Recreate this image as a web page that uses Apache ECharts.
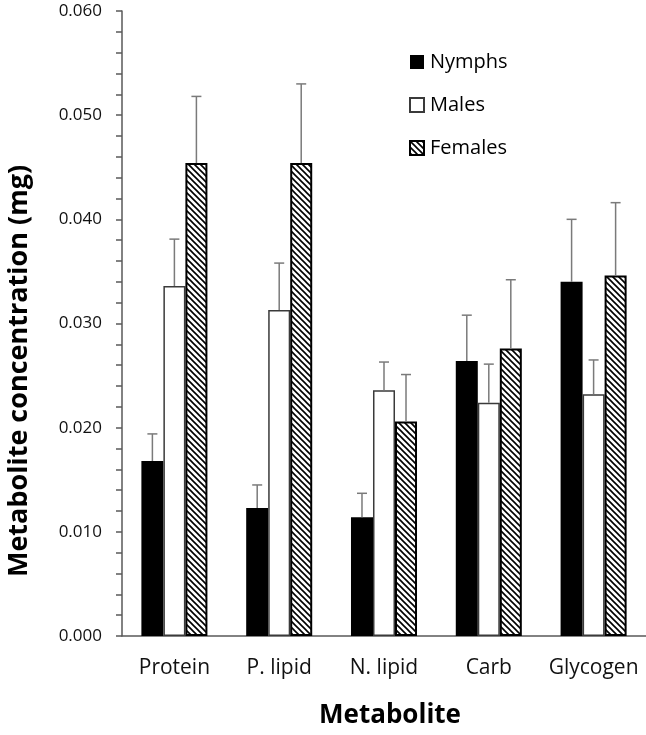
<!DOCTYPE html>
<html>
<head>
<meta charset="utf-8">
<script src="https://cdn.jsdelivr.net/npm/echarts@6/dist/echarts.min.js"></script>
<style>
html,body{margin:0;padding:0;background:#fff;}
#chart{width:646px;height:735px;}
</style>
</head>
<body>
<div id="chart"></div>
<script>
// ---- data ----
var categories = ['Protein', 'P. lipid', 'N. lipid', 'Carb', 'Glycogen'];
var seriesNames = ['Nymphs', 'Males', 'Females'];
var nymphs = [0.0168, 0.0123, 0.0114, 0.0264, 0.0340];
var nymphsErr = [0.0026, 0.0022, 0.0023, 0.0044, 0.0060];
var males = [0.0336, 0.0313, 0.0236, 0.0224, 0.0232];
var malesErr = [0.0045, 0.0045, 0.0027, 0.0037, 0.0033];
var females = [0.0454, 0.0454, 0.0206, 0.0276, 0.0346];
var femalesErr = [0.0064, 0.0076, 0.0045, 0.0066, 0.0070];
var yTicks = ['0.000', '0.010', '0.020', '0.030', '0.040', '0.050', '0.060'];

// ---- hatch pattern ----
function makeHatch() {
  var s = 6;
  var c = document.createElement('canvas');
  c.width = s; c.height = s;
  var ctx = c.getContext('2d');
  ctx.fillStyle = '#fff';
  ctx.fillRect(0, 0, s, s);
  ctx.strokeStyle = '#000';
  ctx.lineWidth = 1.6;
  ctx.beginPath();
  ctx.moveTo(-1, -1); ctx.lineTo(s + 1, s + 1);
  ctx.moveTo(-1, s - 1); ctx.lineTo(1, s + 1);
  ctx.moveTo(s - 1, -1); ctx.lineTo(s + 1, 1);
  ctx.stroke();
  return c;
}
var hatch = { image: makeHatch(), repeat: 'repeat' };

var FONT = '"Open Sans", "Noto Sans", sans-serif';
var BAR_FRAC = 0.21;

function errSeries(vals, errs, idx) {
  var data = vals.map(function (v, i) { return [i, v, v + errs[i]]; });
  return {
    type: 'custom',
    silent: true,
    z: 5,
    data: data,
    renderItem: function (params, api) {
      var band = api.size([1, 0])[0];
      var off = (idx - 1) * band * BAR_FRAC;
      var p0 = api.coord([api.value(0), api.value(1)]);
      var p1 = api.coord([api.value(0), api.value(2)]);
      var x = p0[0] + off;
      var st = { stroke: '#7a7a7a', lineWidth: 1.5 };
      return {
        type: 'group',
        children: [
          { type: 'line', shape: { x1: x, y1: p0[1], x2: x, y2: p1[1] }, style: st },
          { type: 'line', shape: { x1: x - 5, y1: p1[1], x2: x + 5, y2: p1[1] }, style: st }
        ]
      };
    }
  };
}

var chart = echarts.init(document.getElementById('chart'), null, { renderer: 'canvas' });
chart.setOption({
  animation: false,
  backgroundColor: '#fff',
  grid: { left: 122, right: 0, top: 11, bottom: 99, containLabel: false },
  legend: {
    orient: 'vertical',
    left: 404,
    top: 47,
    itemWidth: 14,
    itemHeight: 14,
    itemGap: 23,
    icon: 'rect',
    data: seriesNames,
    textStyle: { fontFamily: FONT, fontSize: 20, color: '#000', padding: [0, 0, 0, 1] }
  },
  xAxis: {
    type: 'category',
    data: categories,
    axisLine: { lineStyle: { color: '#595959', width: 1.5 } },
    axisTick: { show: false },
    axisLabel: { interval: 0, fontFamily: FONT, fontSize: 21, color: '#111', margin: 22 }
  },
  yAxis: {
    type: 'value',
    min: 0,
    max: 0.06,
    interval: 0.01,
    splitLine: { show: false },
    axisLine: { show: true, lineStyle: { color: '#595959', width: 1.5 } },
    axisTick: { show: true, inside: false, length: 6, lineStyle: { color: '#595959', width: 1.5 } },
    minorTick: { show: true, splitNumber: 5, length: 6, lineStyle: { color: '#595959', width: 1.5 } },
    axisLabel: {
      fontFamily: FONT, fontSize: 17, color: '#111', margin: 20,
      formatter: function (v) { return yTicks[Math.round(v / 0.01)]; }
    }
  },
  graphic: [
    {
      type: 'text', x: 19, y: 371, rotation: Math.PI / 2,
      style: {
        text: 'Metabolite concentration (mg)', fontFamily: FONT, fontWeight: 'bold',
        fontSize: 27, fill: '#000', align: 'center', verticalAlign: 'middle'
      }
    },
    {
      type: 'text', x: 390, y: 716,
      style: {
        text: 'Metabolite', fontFamily: FONT, fontWeight: 'bold',
        fontSize: 26, fill: '#000', align: 'center', verticalAlign: 'middle'
      }
    }
  ],
  series: [
    {
      name: 'Nymphs', type: 'bar', data: nymphs, barGap: '0%', barCategoryGap: '37%',
      itemStyle: { color: '#000', borderColor: '#000', borderWidth: 0 }
    },
    {
      name: 'Males', type: 'bar', data: males,
      itemStyle: { color: '#fff', borderColor: '#3a3a3a', borderWidth: 1.5 }
    },
    {
      name: 'Females', type: 'bar', data: females,
      itemStyle: { color: hatch, borderColor: '#000', borderWidth: 2 }
    },
    errSeries(nymphs, nymphsErr, 0),
    errSeries(males, malesErr, 1),
    errSeries(females, femalesErr, 2)
  ]
});
</script>
</body>
</html>
